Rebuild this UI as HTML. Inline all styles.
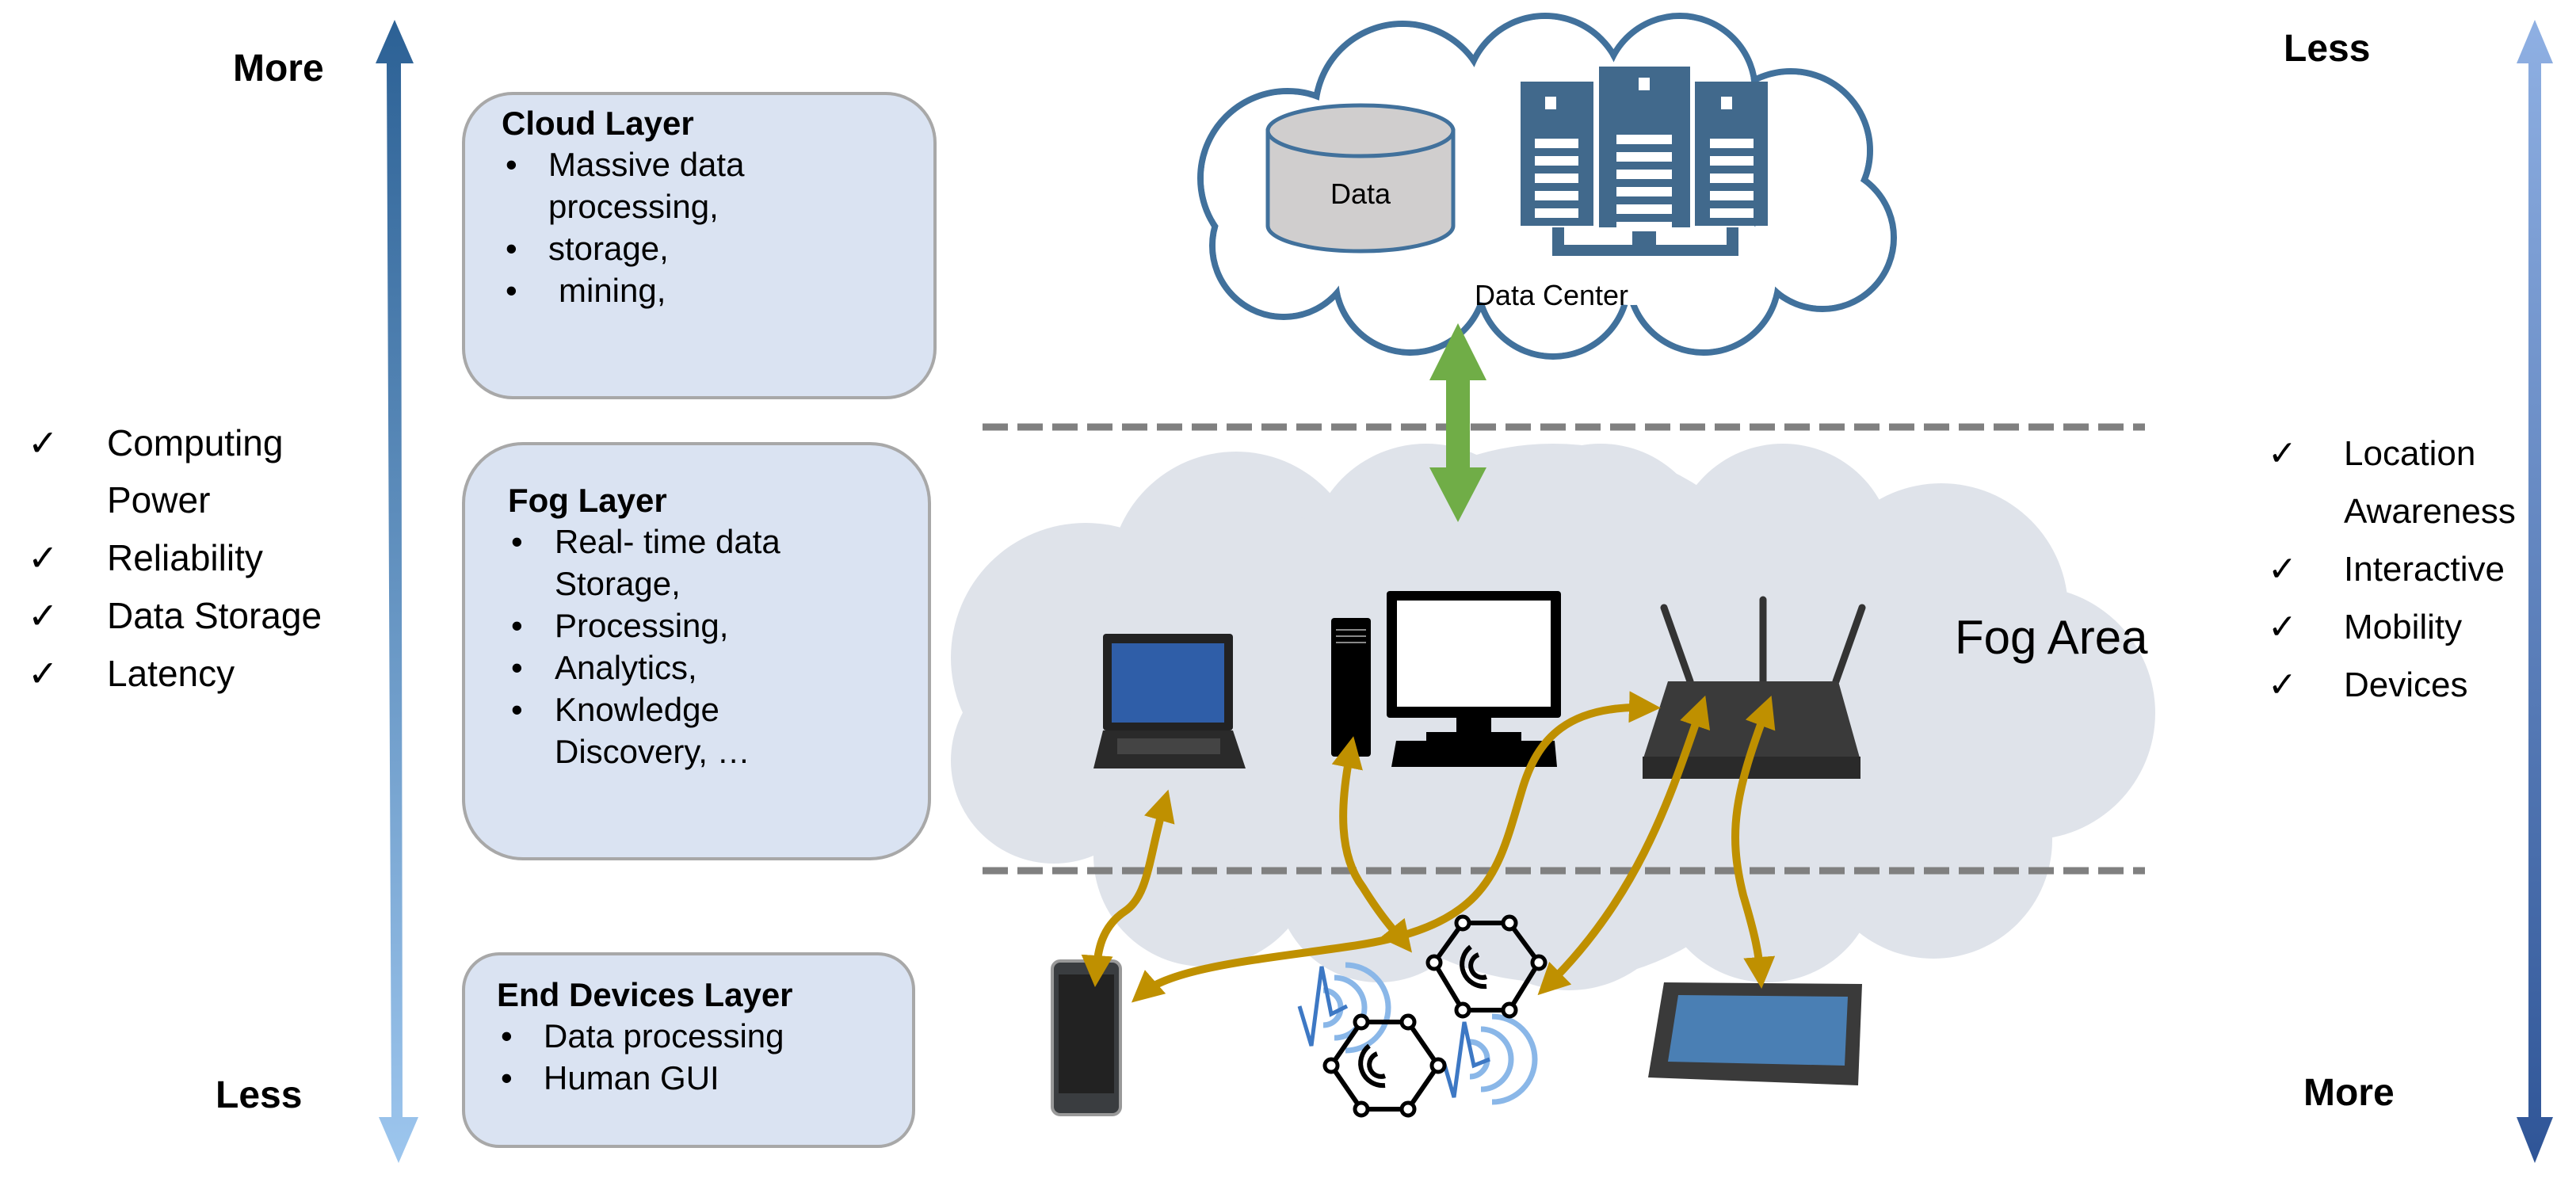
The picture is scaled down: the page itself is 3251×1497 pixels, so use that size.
<!DOCTYPE html>
<html><head><meta charset="utf-8"><style>
html,body{margin:0;padding:0;background:#fff;}
svg{display:block;}
text{font-family:"Liberation Sans",sans-serif;}
</style></head><body>
<svg width="3251" height="1497" viewBox="0 0 3251 1497" xmlns="http://www.w3.org/2000/svg">
<defs>
<linearGradient id="lg" x1="0" y1="0" x2="0" y2="1"><stop offset="0" stop-color="#2c6195"/><stop offset="1" stop-color="#9dc6ee"/></linearGradient>
<linearGradient id="rg" x1="0" y1="0" x2="0" y2="1"><stop offset="0" stop-color="#8fb0e3"/><stop offset="1" stop-color="#2f5597"/></linearGradient>
<marker id="ga" viewBox="0 0 10 10" refX="6" refY="5" markerWidth="4" markerHeight="4" orient="auto-start-reverse"><path d="M0,0 L10,5 L0,10 z" fill="#bf9000"/></marker>
</defs>

<polygon points="498,25 522,80 506,80 508,1410 528,1410 503,1468 478,1410 494,1410 488,80 474,80" fill="url(#lg)"/>
<polygon points="3199,25 3222,80 3207,80 3207,1410 3222,1410 3199,1468 3176,1410 3191,1410 3191,80 3176,80" fill="url(#rg)"/>

<text x="294" y="102" font-size="48" font-weight="bold">More</text>
<text x="272" y="1398" font-size="48" font-weight="bold">Less</text>
<text x="2882" y="77" font-size="48" font-weight="bold">Less</text>
<text x="2907" y="1395" font-size="48" font-weight="bold">More</text>

<g font-size="46">
<text x="35" y="575">✓</text><text x="135" y="575">Computing</text>
<text x="135" y="647">Power</text>
<text x="35" y="720">✓</text><text x="135" y="720">Reliability</text>
<text x="35" y="793">✓</text><text x="135" y="793">Data Storage</text>
<text x="35" y="866">✓</text><text x="135" y="866">Latency</text>
</g>
<g font-size="44">
<text x="2862" y="587">✓</text><text x="2958" y="587">Location</text>
<text x="2958" y="660">Awareness</text>
<text x="2862" y="733">✓</text><text x="2958" y="733">Interactive</text>
<text x="2862" y="806">✓</text><text x="2958" y="806">Mobility</text>
<text x="2862" y="879">✓</text><text x="2958" y="879">Devices</text>
</g>

<g fill="#dae3f2" stroke="#a8a8a8" stroke-width="4">
<rect x="585" y="118" width="595" height="384" rx="62"/>
<rect x="585" y="560" width="588" height="524" rx="75"/>
<rect x="585" y="1204" width="568" height="243" rx="45"/>
</g>
<g font-size="42">
<text x="633" y="170" font-weight="bold">Cloud Layer</text>
<text x="638" y="222">•</text><text x="692" y="222">Massive data</text>
<text x="692" y="275">processing,</text>
<text x="638" y="328">•</text><text x="692" y="328">storage,</text>
<text x="638" y="381">•</text><text x="705" y="381">mining,</text>

<text x="641" y="646" font-weight="bold">Fog Layer</text>
<text x="645" y="698">•</text><text x="700" y="698">Real- time data</text>
<text x="700" y="751">Storage,</text>
<text x="645" y="804">•</text><text x="700" y="804">Processing,</text>
<text x="645" y="857">•</text><text x="700" y="857">Analytics,</text>
<text x="645" y="910">•</text><text x="700" y="910">Knowledge</text>
<text x="700" y="963">Discovery, …</text>

<text x="627" y="1270" font-weight="bold">End Devices Layer</text>
<text x="632" y="1322">•</text><text x="686" y="1322">Data processing</text>
<text x="632" y="1375">•</text><text x="686" y="1375">Human GUI</text>
</g>

<!-- fog cloud -->
<g fill="#dfe3ea">
<circle cx="1370" cy="830" r="170"/><circle cx="1330" cy="960" r="130"/><circle cx="1560" cy="730" r="160"/>
<circle cx="1800" cy="710" r="150"/><circle cx="2020" cy="700" r="140"/><circle cx="2250" cy="700" r="140"/>
<circle cx="2450" cy="770" r="160"/><circle cx="2560" cy="900" r="160"/><circle cx="2440" cy="1060" r="150"/>
<circle cx="2230" cy="1100" r="140"/><circle cx="1980" cy="1100" r="150"/><circle cx="1740" cy="1110" r="130"/>
<circle cx="1520" cy="1080" r="140"/><circle cx="1960" cy="900" r="340"/><circle cx="1600" cy="900" r="250"/><circle cx="2300" cy="900" r="250"/>
</g>
<text x="2467" y="825" font-size="60">Fog Area</text>

<g stroke="#808080" stroke-width="9" stroke-dasharray="32 12">
<line x1="1240" y1="539" x2="2707" y2="539"/>
<line x1="1240" y1="1099" x2="2707" y2="1099"/>
</g>

<!-- top cloud -->
<g fill="#fff" stroke="#41719c" stroke-width="8">
<circle cx="1625" cy="225" r="110"/><circle cx="1770" cy="140" r="110"/><circle cx="1950" cy="120" r="100"/>
<circle cx="2120" cy="115" r="95"/><circle cx="2260" cy="190" r="100"/><circle cx="2300" cy="300" r="90"/>
<circle cx="2150" cy="350" r="95"/><circle cx="1960" cy="355" r="95"/><circle cx="1780" cy="350" r="95"/>
<circle cx="1620" cy="310" r="90"/>
</g>
<g fill="#fff">
<circle cx="1625" cy="225" r="106"/><circle cx="1770" cy="140" r="106"/><circle cx="1950" cy="120" r="96"/>
<circle cx="2120" cy="115" r="91"/><circle cx="2260" cy="190" r="96"/><circle cx="2300" cy="300" r="86"/>
<circle cx="2150" cy="350" r="91"/><circle cx="1960" cy="355" r="91"/><circle cx="1780" cy="350" r="91"/>
<circle cx="1620" cy="310" r="86"/><circle cx="1900" cy="245" r="140"/><circle cx="2060" cy="245" r="140"/>
</g>
<!-- cylinder -->
<path d="M1600,165 L1600,285 A117,32 0 0 0 1834,285 L1834,165 Z" fill="#d0cece" stroke="#41719c" stroke-width="5"/>
<ellipse cx="1717" cy="165" rx="117" ry="32" fill="#d0cece" stroke="#41719c" stroke-width="5"/>
<text x="1717" y="257" font-size="36" text-anchor="middle">Data</text>
<!-- servers -->
<g fill="#41698c">
<rect x="1919" y="103" width="92" height="182"/><rect x="2018" y="84" width="115" height="220"/><rect x="2139" y="103" width="92" height="182"/>
<rect x="1959" y="287" width="235" height="36"/>
</g>
<rect x="1974" y="287" width="205" height="22" fill="#fff"/>
<rect x="2060" y="287" width="30" height="22" fill="#41698c"/>
<g fill="#fff">
<rect x="1950" y="122" width="14" height="16"/><rect x="2068" y="98" width="14" height="16"/><rect x="2172" y="122" width="14" height="16"/>
<rect x="1937" y="175" width="55" height="12"/><rect x="1937" y="197" width="55" height="12"/><rect x="1937" y="219" width="55" height="12"/><rect x="1937" y="241" width="55" height="12"/><rect x="1937" y="263" width="55" height="12"/>
<rect x="2040" y="170" width="70" height="12"/><rect x="2040" y="192" width="70" height="12"/><rect x="2040" y="214" width="70" height="12"/><rect x="2040" y="236" width="70" height="12"/><rect x="2040" y="258" width="70" height="12"/><rect x="2040" y="280" width="70" height="12"/>
<rect x="2158" y="175" width="55" height="12"/><rect x="2158" y="197" width="55" height="12"/><rect x="2158" y="219" width="55" height="12"/><rect x="2158" y="241" width="55" height="12"/><rect x="2158" y="263" width="55" height="12"/>
</g>
<text x="1958" y="385" font-size="36" text-anchor="middle">Data Center</text>

<polygon points="1840,408 1876,480 1855,480 1855,590 1876,590 1840,659 1804,590 1825,590 1825,480 1804,480" fill="#70ad47"/>

<!-- laptop -->
<rect x="1392" y="800" width="164" height="122" rx="4" fill="#222"/>
<rect x="1403" y="812" width="142" height="100" fill="#2f5ea8"/>
<polygon points="1392,922 1556,922 1572,970 1380,970" fill="#2a2a2a"/>
<rect x="1410" y="932" width="130" height="20" fill="#444"/>
<!-- tower -->
<rect x="1680" y="780" width="50" height="175" rx="4" fill="#000"/>
<g stroke="#888" stroke-width="2"><line x1="1686" y1="795" x2="1724" y2="795"/><line x1="1686" y1="803" x2="1724" y2="803"/><line x1="1686" y1="811" x2="1724" y2="811"/></g>
<!-- monitor -->
<rect x="1750" y="746" width="220" height="160" rx="4" fill="#000"/>
<rect x="1763" y="758" width="194" height="134" fill="#fff"/>
<rect x="1838" y="906" width="44" height="22" fill="#000"/>
<rect x="1800" y="924" width="120" height="12" fill="#000"/>
<polygon points="1762,935 1962,935 1965,968 1756,968" fill="#000"/>
<!-- router -->
<g stroke="#333" stroke-width="9" stroke-linecap="round">
<line x1="2100" y1="767" x2="2133" y2="860"/><line x1="2225" y1="757" x2="2225" y2="860"/><line x1="2350" y1="767" x2="2317" y2="860"/>
</g>
<polygon points="2105,860 2320,860 2348,960 2073,960" fill="#3a3a3a"/>
<rect x="2073" y="955" width="275" height="28" fill="#2a2a2a"/>
<!-- phone -->
<rect x="1328" y="1213" width="86" height="194" rx="10" fill="#3a3d40" stroke="#999" stroke-width="4"/>
<rect x="1336" y="1230" width="70" height="150" fill="#222"/>
<!-- tablet -->
<polygon points="2100,1240 2350,1242 2345,1370 2080,1360" fill="#3a3a3a"/>
<polygon points="2118,1256 2332,1258 2328,1345 2105,1340" fill="#4a7fb4"/>
<g fill="none" stroke="#8ab7e8" stroke-width="7">
<path d="M1670,1250 a22,22 0 0 1 0,44"/><path d="M1684,1234 a38,38 0 0 1 0,76"/><path d="M1698,1218 a54,54 0 0 1 0,108"/>
<path d="M1855,1315 a22,22 0 0 1 0,44"/><path d="M1869,1299 a38,38 0 0 1 0,76"/><path d="M1883,1283 a54,54 0 0 1 0,108"/>
</g>
<g fill="none" stroke="#3d78c4" stroke-width="5">
<polyline points="1640,1270 1655,1320 1668,1220 1680,1280 1700,1270"/>
<polyline points="1822,1340 1835,1385 1848,1290 1860,1345 1880,1337"/>
</g>
<g fill="none" stroke="#000" stroke-width="6">
<polygon points="1846,1165 1905,1165 1942,1215 1905,1275 1846,1275 1810,1215"/>
<polygon points="1718,1290 1777,1290 1815,1345 1777,1400 1718,1400 1680,1345"/>
<path d="M1866,1205 a14,14 0 0 0 10,28"/><path d="M1856,1195 a28,28 0 0 0 20,50"/>
<path d="M1738,1330 a14,14 0 0 0 10,28"/><path d="M1728,1320 a28,28 0 0 0 20,50"/>
</g>
<g fill="#fff" stroke="#000" stroke-width="5">
<circle cx="1846" cy="1165" r="8"/><circle cx="1905" cy="1165" r="8"/><circle cx="1942" cy="1215" r="8"/><circle cx="1905" cy="1275" r="8"/><circle cx="1846" cy="1275" r="8"/><circle cx="1810" cy="1215" r="8"/>
<circle cx="1718" cy="1290" r="8"/><circle cx="1777" cy="1290" r="8"/><circle cx="1815" cy="1345" r="8"/><circle cx="1777" cy="1400" r="8"/><circle cx="1718" cy="1400" r="8"/><circle cx="1680" cy="1345" r="8"/>
</g>

<g fill="none" stroke="#bf9000" stroke-width="10" marker-start="url(#ga)" marker-end="url(#ga)">
<path d="M1470,1012 C1450,1080 1450,1130 1420,1150 C1390,1170 1385,1200 1383,1230"/>
<path d="M1705,945 C1690,1020 1690,1080 1720,1120 C1745,1160 1760,1175 1772,1190"/>
<path d="M1440,1255 C1480,1220 1600,1210 1700,1195 C1880,1170 1890,1100 1920,1000 C1940,930 1980,890 2080,893"/>
<path d="M2147,893 C2110,1000 2070,1130 1952,1245"/>
<path d="M2230,893 C2190,1000 2180,1050 2200,1130 C2215,1180 2220,1205 2222,1232"/>
</g>
</svg>
</body></html>
